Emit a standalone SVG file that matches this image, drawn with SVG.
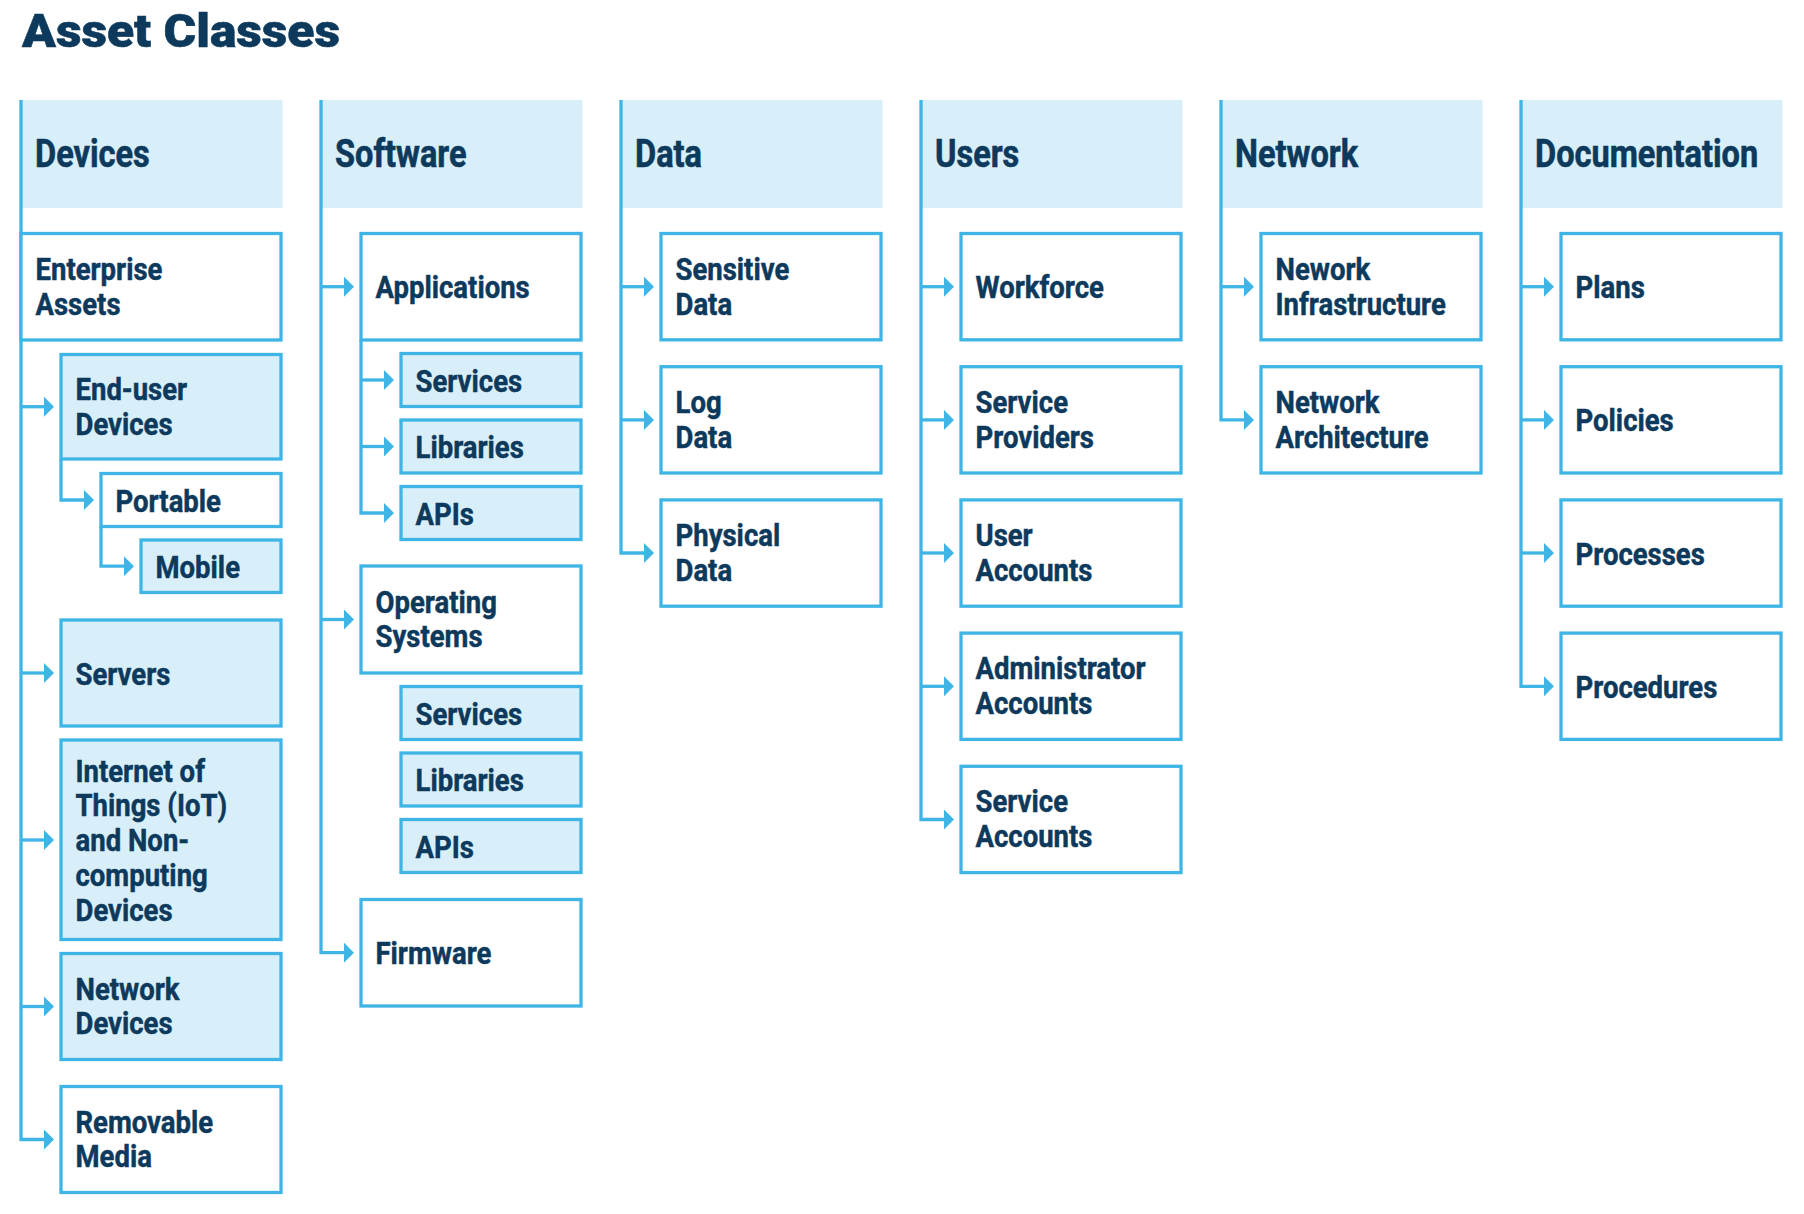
<svg xmlns="http://www.w3.org/2000/svg" width="1804" height="1214" viewBox="0 0 1804 1214">
<defs>
<style>
.hd{fill:#D8EFF9}
.bw{fill:#FFFFFF;stroke:#3FB5E6;stroke-width:3.3}
.bb{fill:#D8EFF9;stroke:#3FB5E6;stroke-width:3.3}
.t{font-family:Roboto,"Liberation Sans",Arial,sans-serif;font-weight:700;font-size:32px;fill:#0D3A5C;stroke:#0D3A5C;stroke-width:0.5}
.h{font-family:Roboto,"Liberation Sans",Arial,sans-serif;font-weight:700;font-size:38.5px;fill:#0D3A5C;stroke:#0D3A5C;stroke-width:0.6}
.ti{font-family:Roboto,"Liberation Sans",Arial,sans-serif;font-weight:900;font-size:47px;fill:#0D3A5C;stroke:#0D3A5C;stroke-width:0.6}
.c{fill:none;stroke:#3FB5E6;stroke-width:3.3;marker-end:url(#arr)}
</style>
<marker id="arr" markerUnits="userSpaceOnUse" markerWidth="10" markerHeight="20" viewBox="0 0 10 20" refX="0" refY="10" orient="auto">
<path d="M0,0 L10,10 L0,20 Z" fill="#3FB5E6"/>
</marker>
</defs>
<rect width="1804" height="1214" fill="#FFFFFF"/>
<text id="title" class="ti" x="22" y="47" textLength="318" lengthAdjust="spacingAndGlyphs">Asset Classes</text>

<!-- headers -->
<g id="hdr-devices"><rect class="hd" x="21" y="100" width="261.5" height="108"/><text class="h" transform="translate(35,166.5) scale(0.845,1)">Devices</text></g>
<g id="hdr-software"><rect class="hd" x="321" y="100" width="261.5" height="108"/><text class="h" transform="translate(335,166.5) scale(0.845,1)">Software</text></g>
<g id="hdr-data"><rect class="hd" x="621" y="100" width="261.5" height="108"/><text class="h" transform="translate(635,166.5) scale(0.845,1)">Data</text></g>
<g id="hdr-users"><rect class="hd" x="921" y="100" width="261.5" height="108"/><text class="h" transform="translate(935,166.5) scale(0.845,1)">Users</text></g>
<g id="hdr-network"><rect class="hd" x="1221" y="100" width="261.5" height="108"/><text class="h" transform="translate(1235,166.5) scale(0.845,1)">Network</text></g>
<g id="hdr-documentation"><rect class="hd" x="1521" y="100" width="261.5" height="108"/><text class="h" transform="translate(1535,166.5) scale(0.845,1)">Documentation</text></g>

<!-- connectors -->
<g id="connectors">
<path class="c" d="M21,100 V1139.5 H44"/>
<path class="c" d="M21,406.7 H44"/>
<path class="c" d="M21,673 H44"/>
<path class="c" d="M21,840 H44"/>
<path class="c" d="M21,1006.5 H44"/>
<path class="c" d="M61,459 V500 H84"/>
<path class="c" d="M101,526.5 V566.2 H124"/>

<path class="c" d="M321,100 V952.7 H344"/>
<path class="c" d="M321,286.7 H344"/>
<path class="c" d="M321,619.5 H344"/>
<path class="c" d="M361,340 V513 H384"/>
<path class="c" d="M361,380 H384"/>
<path class="c" d="M361,446.5 H384"/>

<path class="c" d="M621,100 V553 H644"/>
<path class="c" d="M621,286.7 H644"/>
<path class="c" d="M621,419.9 H644"/>

<path class="c" d="M921,100 V819.5 H944"/>
<path class="c" d="M921,286.7 H944"/>
<path class="c" d="M921,419.9 H944"/>
<path class="c" d="M921,553 H944"/>
<path class="c" d="M921,686.3 H944"/>

<path class="c" d="M1221,100 V419.9 H1244"/>
<path class="c" d="M1221,286.7 H1244"/>

<path class="c" d="M1521,100 V686.3 H1544"/>
<path class="c" d="M1521,286.7 H1544"/>
<path class="c" d="M1521,419.9 H1544"/>
<path class="c" d="M1521,553 H1544"/>
</g>

<!-- Devices -->
<g id="enterprise-assets"><rect class="bw" x="21" y="233.5" width="260" height="106.5"/><text class="t" transform="translate(35.5,279.7) scale(0.86,1)"><tspan x="0">Enterprise</tspan><tspan x="0" dy="35">Assets</tspan></text></g>
<g id="end-user-devices"><rect class="bb" x="61" y="354.5" width="220" height="104.5"/><text class="t" transform="translate(75.5,399.7) scale(0.86,1)"><tspan x="0">End-user</tspan><tspan x="0" dy="35">Devices</tspan></text></g>
<g id="portable"><rect class="bw" x="101" y="473.5" width="180" height="53"/><text class="t" transform="translate(115.5,511.5) scale(0.86,1)">Portable</text></g>
<g id="mobile"><rect class="bb" x="141" y="540" width="140" height="52.5"/><text class="t" transform="translate(155.5,577.7) scale(0.86,1)">Mobile</text></g>
<g id="servers"><rect class="bb" x="61" y="620" width="220" height="106"/><text class="t" transform="translate(75.5,684.5) scale(0.86,1)">Servers</text></g>
<g id="iot"><rect class="bb" x="61" y="740" width="220" height="199.5"/><text class="t" transform="translate(75.5,781.5) scale(0.86,1)"><tspan x="0">Internet of</tspan><tspan x="0" dy="35">Things (IoT)</tspan><tspan x="0" dy="35">and Non-</tspan><tspan x="0" dy="35">computing</tspan><tspan x="0" dy="35">Devices</tspan></text></g>
<g id="network-devices"><rect class="bb" x="61" y="953.5" width="220" height="106"/><text class="t" transform="translate(75.5,999.5) scale(0.86,1)"><tspan x="0">Network</tspan><tspan x="0" dy="35">Devices</tspan></text></g>
<g id="removable-media"><rect class="bw" x="61" y="1086.5" width="220" height="106"/><text class="t" transform="translate(75.5,1132.5) scale(0.86,1)"><tspan x="0">Removable</tspan><tspan x="0" dy="35">Media</tspan></text></g>

<!-- Software -->
<g id="applications"><rect class="bw" x="361" y="233.5" width="220" height="106.5"/><text class="t" transform="translate(375.5,298.2) scale(0.86,1)">Applications</text></g>
<g id="app-services"><rect class="bb" x="401" y="353.5" width="180" height="53"/><text class="t" transform="translate(415.5,391.5) scale(0.86,1)">Services</text></g>
<g id="app-libraries"><rect class="bb" x="401" y="420" width="180" height="53"/><text class="t" transform="translate(415.5,458) scale(0.86,1)">Libraries</text></g>
<g id="app-apis"><rect class="bb" x="401" y="486.5" width="180" height="53"/><text class="t" transform="translate(415.5,524.5) scale(0.86,1)">APIs</text></g>
<g id="operating-systems"><rect class="bw" x="361" y="566" width="220" height="107"/><text class="t" transform="translate(375.5,612.5) scale(0.86,1)"><tspan x="0">Operating</tspan><tspan x="0" dy="35">Systems</tspan></text></g>
<g id="os-services"><rect class="bb" x="401" y="686.5" width="180" height="53"/><text class="t" transform="translate(415.5,724.5) scale(0.86,1)">Services</text></g>
<g id="os-libraries"><rect class="bb" x="401" y="753" width="180" height="53"/><text class="t" transform="translate(415.5,791) scale(0.86,1)">Libraries</text></g>
<g id="os-apis"><rect class="bb" x="401" y="819.5" width="180" height="53"/><text class="t" transform="translate(415.5,857.5) scale(0.86,1)">APIs</text></g>
<g id="firmware"><rect class="bw" x="361" y="899.5" width="220" height="106.5"/><text class="t" transform="translate(375.5,964.2) scale(0.86,1)">Firmware</text></g>

<!-- Data -->
<g id="sensitive-data"><rect class="bw" x="661" y="233.5" width="220" height="106.3"/><text class="t" transform="translate(675.5,279.7) scale(0.86,1)"><tspan x="0">Sensitive</tspan><tspan x="0" dy="35">Data</tspan></text></g>
<g id="log-data"><rect class="bw" x="661" y="366.7" width="220" height="106.3"/><text class="t" transform="translate(675.5,412.9) scale(0.86,1)"><tspan x="0">Log</tspan><tspan x="0" dy="35">Data</tspan></text></g>
<g id="physical-data"><rect class="bw" x="661" y="499.9" width="220" height="106.3"/><text class="t" transform="translate(675.5,546) scale(0.86,1)"><tspan x="0">Physical</tspan><tspan x="0" dy="35">Data</tspan></text></g>

<!-- Users -->
<g id="workforce"><rect class="bw" x="961" y="233.5" width="220" height="106.3"/><text class="t" transform="translate(975.5,298.1) scale(0.86,1)">Workforce</text></g>
<g id="service-providers"><rect class="bw" x="961" y="366.7" width="220" height="106.3"/><text class="t" transform="translate(975.5,412.9) scale(0.86,1)"><tspan x="0">Service</tspan><tspan x="0" dy="35">Providers</tspan></text></g>
<g id="user-accounts"><rect class="bw" x="961" y="499.9" width="220" height="106.3"/><text class="t" transform="translate(975.5,546) scale(0.86,1)"><tspan x="0">User</tspan><tspan x="0" dy="35">Accounts</tspan></text></g>
<g id="administrator-accounts"><rect class="bw" x="961" y="633.1" width="220" height="106.3"/><text class="t" transform="translate(975.5,679.2) scale(0.86,1)"><tspan x="0">Administrator</tspan><tspan x="0" dy="35">Accounts</tspan></text></g>
<g id="service-accounts"><rect class="bw" x="961" y="766.3" width="220" height="106.3"/><text class="t" transform="translate(975.5,812.4) scale(0.86,1)"><tspan x="0">Service</tspan><tspan x="0" dy="35">Accounts</tspan></text></g>

<!-- Network -->
<g id="nework-infrastructure"><rect class="bw" x="1261" y="233.5" width="220" height="106.3"/><text class="t" transform="translate(1275.5,279.7) scale(0.86,1)"><tspan x="0">Nework</tspan><tspan x="0" dy="35">Infrastructure</tspan></text></g>
<g id="network-architecture"><rect class="bw" x="1261" y="366.7" width="220" height="106.3"/><text class="t" transform="translate(1275.5,412.9) scale(0.86,1)"><tspan x="0">Network</tspan><tspan x="0" dy="35">Architecture</tspan></text></g>

<!-- Documentation -->
<g id="plans"><rect class="bw" x="1561" y="233.5" width="220" height="106.3"/><text class="t" transform="translate(1575.5,298.1) scale(0.86,1)">Plans</text></g>
<g id="policies"><rect class="bw" x="1561" y="366.7" width="220" height="106.3"/><text class="t" transform="translate(1575.5,431.3) scale(0.86,1)">Policies</text></g>
<g id="processes"><rect class="bw" x="1561" y="499.9" width="220" height="106.3"/><text class="t" transform="translate(1575.5,564.5) scale(0.86,1)">Processes</text></g>
<g id="procedures"><rect class="bw" x="1561" y="633.1" width="220" height="106.3"/><text class="t" transform="translate(1575.5,697.7) scale(0.86,1)">Procedures</text></g>
</svg>
